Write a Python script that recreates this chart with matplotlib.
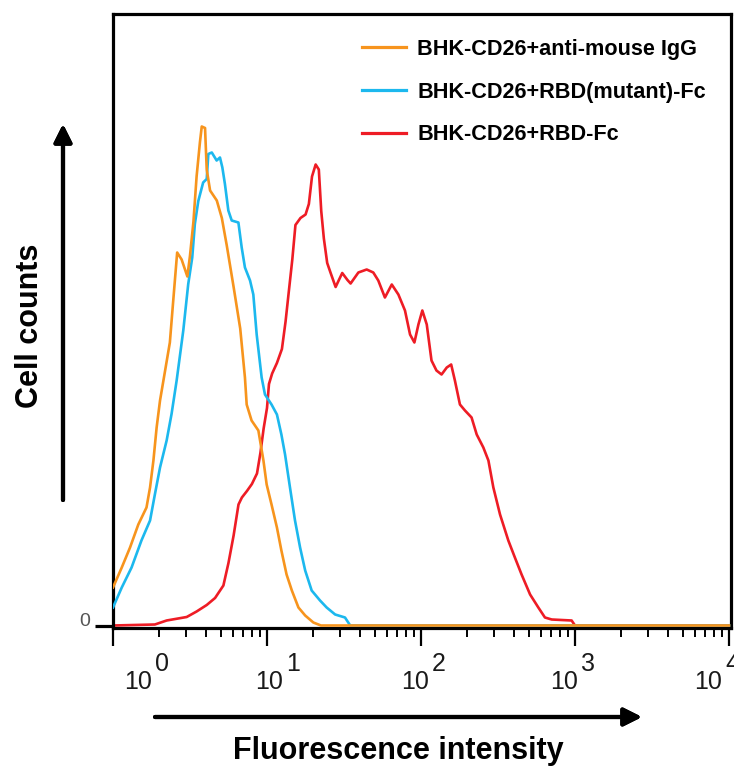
import matplotlib

matplotlib.use("Agg")
import matplotlib.pyplot as plt
import numpy as np
from matplotlib.ticker import LogLocator, NullFormatter

plt.rcParams["font.family"] = ["Liberation Sans", "DejaVu Sans"]

# histogram traces (fluorescence intensity, cell counts)
orange_fi = [1.00, 1.14, 1.29, 1.46, 1.65, 1.74, 1.83, 1.92, 2.02, 2.18, 2.34, 2.46,
             2.61, 2.79, 3.04, 3.16, 3.33, 3.49, 3.67, 3.77, 3.96, 4.06, 4.27, 4.72,
             5.09, 5.48, 6.07, 6.70, 7.19, 7.38, 7.94, 8.79, 9.48, 9.95, 10.7, 11.6,
             12.4, 13.4, 14.5, 16.0, 17.7, 20.0, 22.4, 10000]
orange_counts = [7.6, 11.6, 15.6, 20.2, 23.6, 27.6, 33.0, 39.6, 45.0, 51.0, 56.6, 64.9,
                 74.6, 73.2, 69.8, 73.9, 80.8, 89.8, 96.7, 99.8, 99.5, 91.2, 87.0, 85.0,
                 81.5, 76.0, 67.7, 59.4, 49.6, 44.2, 41.0, 39.0, 33.0, 28.2, 24.2, 19.6,
                 15.0, 10.2, 7.0, 3.6, 2.0, 0.6, 0.0, 0.0]

blue_fi = [1.00, 1.14, 1.32, 1.53, 1.74, 1.87, 2.02, 2.23, 2.40, 2.59, 2.86, 3.08,
           3.27, 3.40, 3.58, 3.85, 4.06, 4.16, 4.38, 4.71, 4.95, 5.13, 5.33, 5.61,
           5.90, 6.52, 6.85, 7.19, 7.76, 8.15, 8.57, 9.23, 9.70, 10.7, 11.6, 12.4,
           13.1, 14.1, 15.2, 16.4, 17.7, 19.5, 22.1, 24.4, 27.7, 32.1, 34.7, 10000]
blue_counts = [3.6, 7.6, 11.6, 17.0, 21.0, 26.2, 31.6, 37.0, 42.3, 49.0, 59.0, 68.3,
               73.6, 80.3, 84.9, 88.6, 89.3, 94.3, 94.6, 93.0, 93.6, 91.6, 88.3, 83.0,
               81.0, 80.6, 75.6, 71.6, 69.0, 66.2, 58.2, 49.6, 46.2, 44.2, 42.2, 38.2,
               34.2, 27.6, 21.0, 15.6, 11.0, 7.0, 5.0, 3.6, 2.2, 1.6, 0.0, 0.0]

red_fi = [1.00, 1.87, 2.23, 3.01, 3.49, 4.06, 4.60, 5.21, 5.62, 6.07, 6.53, 6.87,
          7.41, 7.98, 8.61, 9.06, 9.51, 10.0, 10.3, 10.8, 11.6, 12.5, 13.2, 13.8,
          14.6, 15.3, 16.5, 17.8, 18.7, 19.6, 20.7, 21.7, 22.5, 23.4, 24.6, 25.9,
          27.9, 29.3, 30.8, 33.3, 34.9, 39.2, 44.4, 49.0, 52.8, 58.3, 64.6, 71.3,
          78.7, 84.9, 90.6, 96.2, 102, 109, 117, 126, 136, 147, 157, 166,
          179, 193, 213, 230, 254, 274, 295, 326, 369, 407, 450, 511,
          578, 638, 706, 951, 1000, 10000]
red_counts = [0.0, 0.2, 1.0, 1.7, 2.8, 4.1, 5.5, 8.0, 12.5, 18.0, 24.2, 25.6,
              26.9, 28.3, 30.4, 34.5, 39.4, 43.5, 48.3, 50.4, 52.5, 55.3, 60.8, 66.3,
              73.2, 80.1, 81.5, 82.2, 84.3, 89.8, 92.2, 91.2, 82.9, 77.4, 72.5, 70.5,
              67.7, 69.1, 70.5, 69.1, 68.4, 70.6, 71.2, 70.6, 69.0, 65.6, 68.2, 66.2,
              63.0, 58.2, 56.6, 60.2, 63.0, 60.2, 53.0, 51.0, 50.2, 51.6, 52.2, 49.0,
              44.2, 43.0, 41.6, 38.2, 35.6, 33.0, 27.6, 22.2, 17.0, 13.6, 10.2, 6.2,
              3.6, 1.6, 1.2, 1.0, 0.0, 0.0]

labels = ["BHK-CD26+anti-mouse IgG", "BHK-CD26+RBD(mutant)-Fc", "BHK-CD26+RBD-Fc"]
colors = ["#F7941D", "#1CB8EE", "#EE1C25"]
decades = [0, 1, 2, 3, 4]
# the pasted tick labels sit a little off their ticks in the original (pixels)
label_shift_px = [25.5, 2.5, -5.5, -10.5, -20.5]

W, H = 734, 773
fig = plt.figure(figsize=(W / 100, H / 100), dpi=100)
ax = fig.add_axes([113 / W, 145 / H, 618 / W, 614 / H])

ax.plot(red_fi, red_counts, color=colors[2], lw=1.9, zorder=2)
ax.plot(blue_fi, blue_counts, color=colors[1], lw=1.9, zorder=3)
ax.plot(orange_fi, orange_counts, color=colors[0], lw=1.9, zorder=4)

ax.set_xscale("log")
ax.set_xlim(1, 10 ** 4.013)
ax.set_ylim(-0.5, 122.3)

for side in ["left", "right", "top", "bottom"]:
    ax.spines[side].set_linewidth(2.3)
ax.xaxis.set_major_locator(LogLocator(base=10, numticks=10))
ax.xaxis.set_minor_locator(LogLocator(base=10, subs=np.arange(2, 10), numticks=10))
ax.xaxis.set_minor_formatter(NullFormatter())
ax.tick_params(axis="x", which="major", direction="out", length=13, width=1.6,
               labelbottom=False)
ax.tick_params(axis="x", which="minor", direction="out", length=6.5, width=1.4)
ax.set_yticks([0])
ax.tick_params(axis="y", direction="out", length=13, width=2.3, labelleft=False)

# tick labels drawn as "10" plus a big raised exponent, like the original
for d, shift in zip(decades, label_shift_px):
    ax.annotate("10", xy=(10 ** d, 0), xycoords=("data", "axes fraction"),
                xytext=(shift * 0.72, -54 * 0.72), textcoords="offset points",
                ha="center", va="center", fontsize=18, color="#1a1a1a",
                annotation_clip=False)
    ax.annotate(str(d), xy=(10 ** d, 0), xycoords=("data", "axes fraction"),
                xytext=((shift + 16.5) * 0.72, -36 * 0.72), textcoords="offset points",
                ha="left", va="center", fontsize=18, color="#1a1a1a",
                annotation_clip=False)
fig.text(85 / W, 1 - 622 / H, "0", ha="center", va="center", fontsize=14, color="#555555")

handles = [plt.Line2D([], [], color=c, lw=2.3) for c in colors]
fig.legend(handles, labels, loc="upper left", bbox_to_anchor=(362 / W, 1 - 39 / H),
           frameon=False, borderpad=0, borderaxespad=0, handlelength=2.05,
           handletextpad=0.5, labelspacing=1.0,
           prop={"weight": "bold", "size": 15.6})

# axis arrows and titles
arrow = dict(arrowstyle="-|>", lw=3, color="black", mutation_scale=27, shrinkA=0, shrinkB=0)
fig.add_artist(plt.annotate("", xy=(63, H - 124), xytext=(63, H - 500),
                            xycoords="figure pixels", textcoords="figure pixels",
                            arrowprops=arrow))
fig.add_artist(plt.annotate("", xy=(642, H - 717), xytext=(155, H - 717),
                            xycoords="figure pixels", textcoords="figure pixels",
                            arrowprops=arrow))
fig.text(30 / W, 1 - 326 / H, "Cell counts", rotation=90, ha="center", va="center",
         fontsize=22, fontweight="bold")
fig.text(398 / W, 1 - 751 / H, "Fluorescence intensity", ha="center", va="center",
         fontsize=22, fontweight="bold")

fig.savefig("out.png", dpi=100)
